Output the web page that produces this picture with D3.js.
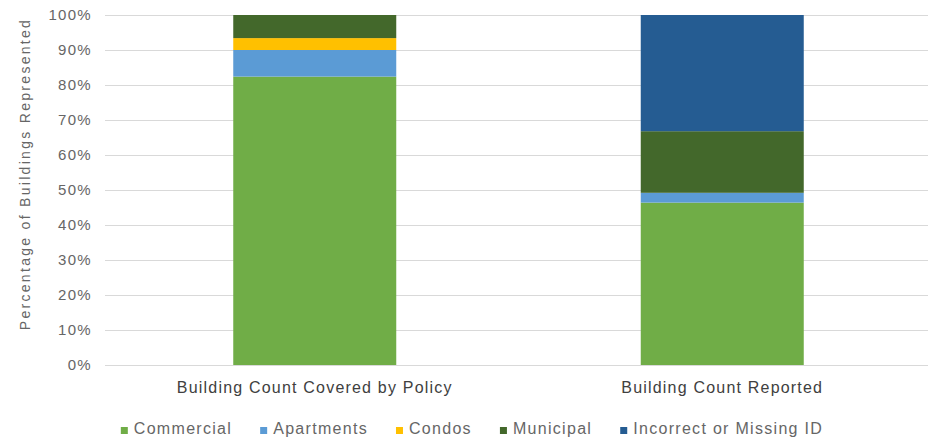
<!DOCTYPE html>
<html>
<head>
<meta charset="utf-8">
<script src="https://cdn.jsdelivr.net/npm/d3@7"></script>
<style>
  body { margin: 0; background: #fff; }
  svg { display: block; font-family: "Liberation Sans", Arial, sans-serif; }
</style>
</head>
<body>
<div id="chart"></div>
<script>
const categories = ['Building Count Covered by Policy', 'Building Count Reported'];
const seriesNames = ['Commercial', 'Apartments', 'Condos', 'Municipal', 'Incorrect or Missing ID'];
const commercial = [82.4, 46.4];
const apartments = [7.6, 2.8];
const condos = [3.4, 0];
const municipal = [6.6, 17.6];
const incorrectOrMissing = [0, 33.2];
const yTicks = [0, 10, 20, 30, 40, 50, 60, 70, 80, 90, 100];
const colors = ['#70ad47', '#5b9bd5', '#ffc000', '#43682b', '#255c92'];

const seriesValues = [commercial, apartments, condos, municipal, incorrectOrMissing];
const rows = categories.map((category, i) => {
  const row = { category };
  seriesNames.forEach((name, s) => { row[name] = seriesValues[s][i]; });
  return row;
});

const availableWidth = 935,
  availableHeight = 441;

const margin = { top: 15, right: 7, bottom: 76, left: 105 },
  width = availableWidth - margin.left - margin.right,
  height = availableHeight - margin.top - margin.bottom;

const svg = d3.select('#chart').append('svg')
  .attr('width', availableWidth)
  .attr('height', availableHeight);

const g = svg.append('g').attr('transform', `translate(${margin.left},${margin.top})`);

// bars sit a little inside the gridline span
const x = d3.scaleBand()
  .domain(categories)
  .range([6, width - 2])
  .paddingInner(0.6)
  .paddingOuter(0.3);

const y = d3.scaleLinear().domain([0, 100]).range([height, 0]);

// gridlines
g.append('g')
  .selectAll('line')
  .data(yTicks)
  .join('line')
    .attr('x1', 0)
    .attr('x2', width)
    .attr('y1', d => y(d) + 0.5)
    .attr('y2', d => y(d) + 0.5)
    .attr('stroke', '#d9d9d9')
    .attr('stroke-width', 1);

// y axis labels
g.append('g')
    .call(d3.axisLeft(y).tickValues(yTicks).tickSize(0).tickPadding(13).tickFormat(d => d + '%'))
    .call(a => a.select('.domain').remove())
  .selectAll('text')
    .attr('fill', '#666')
    .style('font-size', '15px')
    .style('letter-spacing', '1.3px');

// stacked bars
const stack = d3.stack().keys(seriesNames);
const layers = stack(rows);

g.append('g')
  .selectAll('g')
  .data(layers)
  .join('g')
    .attr('fill', (d, i) => colors[i])
  .selectAll('rect')
  .data(d => d)
  .join('rect')
    .attr('x', d => x(d.data.category))
    .attr('width', x.bandwidth())
    .attr('y', d => y(d[1]))
    .attr('height', d => y(d[0]) - y(d[1]));

// category axis
g.append('g')
    .attr('transform', `translate(0,${height})`)
    .call(d3.axisBottom(x).tickSize(0).tickPadding(17))
    .call(a => a.select('.domain').remove())
  .selectAll('text')
    .attr('fill', '#404040')
    .style('font-size', '16px')
    .style('letter-spacing', '1.2px');

// y axis title
svg.append('text')
  .attr('transform', 'translate(26,174) rotate(-90)')
  .attr('text-anchor', 'middle')
  .attr('dominant-baseline', 'middle')
  .attr('fill', '#666')
  .style('font-size', '14px')
  .style('letter-spacing', '2.3px')
  .text('Percentage of Buildings Represented');

// legend
const legend = svg.append('g');
let offset = 0;
seriesNames.forEach((name, i) => {
  const item = legend.append('g').attr('transform', `translate(${offset},0)`);
  item.append('rect')
    .attr('x', 0)
    .attr('y', -7)
    .attr('width', 7)
    .attr('height', 7)
    .attr('fill', colors[i]);
  const label = item.append('text')
    .attr('x', 13)
    .attr('y', 0)
    .attr('fill', '#666')
    .style('font-size', '16px')
    .style('letter-spacing', '1.3px')
    .text(name);
  offset += 13 + label.node().getComputedTextLength() + 28;
});
const legendWidth = offset - 28;
legend.attr('transform', `translate(${472 - legendWidth / 2},434)`);
</script>
</body>
</html>
